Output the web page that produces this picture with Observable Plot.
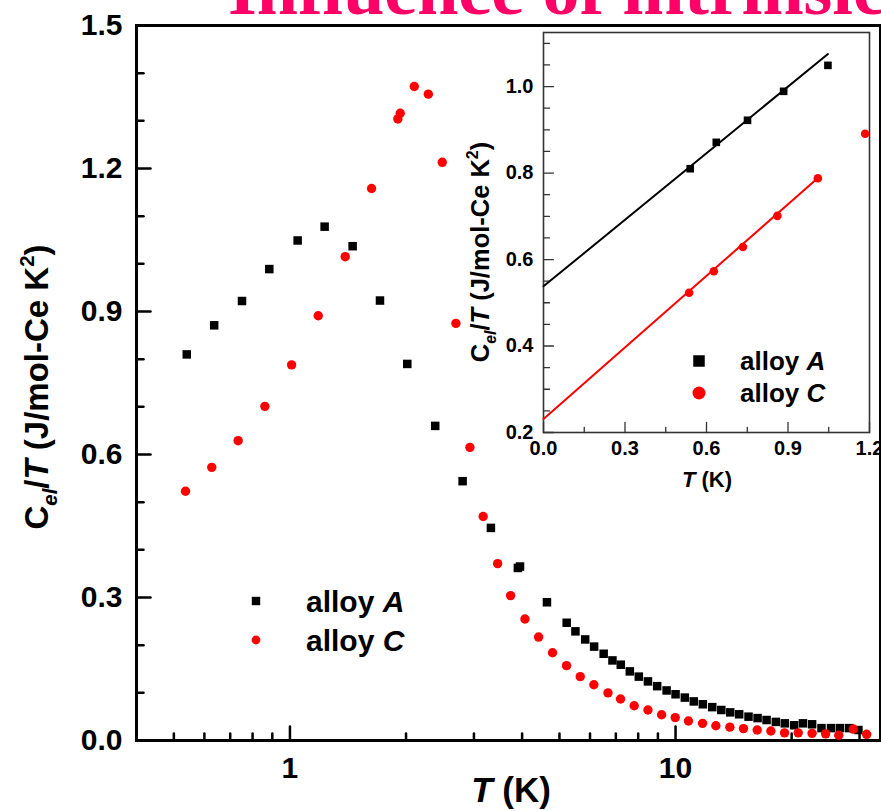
<!DOCTYPE html>
<html><head><meta charset="utf-8">
<script src="https://cdn.jsdelivr.net/npm/d3@7"></script>
<script src="https://cdn.jsdelivr.net/npm/@observablehq/plot@0.6"></script>
<style>
html,body{margin:0;padding:0;overflow:hidden;background:#fff;}
#wrap{position:relative;width:881px;height:811px;overflow:hidden;background:#fff;}
#wrap svg{position:absolute;left:0;top:0;}
</style></head><body><div id="wrap"></div>
<script>
// ---- data ----
const TA = [0.540,0.636,0.751,0.884,1.047,1.23,1.454,1.712,2.015,2.381,2.804,3.32,3.90,3.95,4.64,5.22,5.50,5.83,6.15,6.51,6.86,7.21,7.61,8.03,8.48,8.96,9.48,10.0,10.57,11.15,11.77,12.45,13.14,13.86,14.62,15.46,16.32,17.22,18.2,19.2,20.3,21.4,22.6,23.9,25.3,26.7,28.2,29.8];
const CA = [0.810,0.871,0.922,0.989,1.049,1.078,1.037,0.923,0.790,0.660,0.544,0.446,0.362,0.365,0.290,0.247,0.229,0.212,0.197,0.182,0.168,0.159,0.145,0.134,0.124,0.114,0.105,0.097,0.090,0.082,0.076,0.070,0.064,0.059,0.055,0.050,0.047,0.043,0.039,0.036,0.032,0.036,0.034,0.026,0.026,0.026,0.026,0.022];
const TC = [0.536,0.627,0.734,0.861,1.010,1.184,1.391,1.628,1.905,1.932,2.101,2.285,2.483,2.694,2.929,3.17,3.456,3.734,4.068,4.414,4.797,5.215,5.66,6.14,6.68,7.20,7.81,8.48,9.20,9.98,10.8,11.75,12.72,13.83,15.0,16.28,17.67,19.17,20.8,22.6,24.5,26.5,28.9,31.3];
const CC = [0.523,0.573,0.629,0.701,0.788,0.891,1.015,1.158,1.304,1.316,1.372,1.356,1.213,0.875,0.615,0.470,0.371,0.304,0.255,0.217,0.184,0.157,0.134,0.117,0.100,0.087,0.073,0.064,0.054,0.048,0.041,0.036,0.031,0.028,0.025,0.022,0.020,0.016,0.016,0.015,0.014,0.011,0.024,0.013];

// linear fits shown in the inset
const fitNames = ["A","C"];
const fitIntercept = [0.538, 0.231];
const fitSlope = [0.513, 0.552];
const fitTmax = [1.047, 1.010];

// ticks
const mainXTicks = [1, 10];
const mainXMinor = [0.5,0.6,0.7,0.8,0.9,2,3,4,5,6,7,8,9,20,30];
const mainYTicks = [0,0.3,0.6,0.9,1.2,1.5];
const mainYMinor = [0.1,0.2,0.4,0.5,0.7,0.8,1.0,1.1,1.3,1.4];
const insetXTicks = [0,0.3,0.6,0.9,1.2];
const insetXMinor = [0.15,0.45,0.75,1.05];
const insetYTicks = [0.2,0.4,0.6,0.8,1.0];
const insetYMinor = [0.25,0.3,0.35,0.45,0.5,0.55,0.65,0.7,0.75,0.85,0.9,0.95,1.05,1.1];

const seriesLabels = ["alloy ", "A", "C"];
const titleText = "Influence of intrinsic";

// ---- build ----
const dataA = TA.map((t,i)=>({T:t, C:CA[i]}));
const dataC = TC.map((t,i)=>({T:t, C:CC[i]}));
const W = 881, H = 811;
const FONT = "'Liberation Sans', Arial, Helvetica, sans-serif";
const f1 = d3.format(".1f");

// inward tick shape for Plot.vector
const tickShape = {draw(ctx, l) { ctx.moveTo(0, 0); ctx.lineTo(0, -l); }};
const xTicksIn = (vals, len, sw, stroke="#000") =>
  Plot.vector(vals, {x: d => d, frameAnchor: "bottom", length: len, rotate: 0, anchor: "start", shape: tickShape, stroke, strokeWidth: sw});
const yTicksIn = (vals, len, sw, stroke="#000") =>
  Plot.vector(vals, {y: d => d, frameAnchor: "left", length: len, rotate: 90, anchor: "start", shape: tickShape, stroke, strokeWidth: sw});

const main = Plot.plot({
  width: W, height: H,
  marginLeft: 136, marginRight: 1, marginTop: 25, marginBottom: 71,
  style: {background: "transparent", fontFamily: FONT, overflow: "visible", color: "#000"},
  x: {type: "log", domain: [0.4, 34]},
  y: {domain: [0, 1.5]},
  marks: [
    xTicksIn(mainXMinor, 7, 2.5),
    xTicksIn(mainXTicks, 14, 2.5),
    yTicksIn(mainYMinor, 7, 2.5),
    yTicksIn(mainYTicks, 14, 2.5),
    Plot.frame({stroke: "#000", strokeWidth: 3}),
    Plot.axisX(mainXTicks, {tickSize: 0, tickPadding: 16, tickFormat: d => String(d), fontSize: 30, fontWeight: "bold", label: null}),
    Plot.axisY(mainYTicks, {tickSize: 0, tickPadding: 14, tickFormat: f1, fontSize: 30, fontWeight: "bold", label: null}),
    Plot.dot(dataA, {x: "T", y: "C", symbol: "square", r: 4.8, fill: "#000", stroke: "none"}),
    Plot.dot(dataC, {x: "T", y: "C", r: 4.7, fill: "#ff0000", stroke: "none"})
  ]
});

const insetA = dataA.filter(d => d.T <= 1.2);
const insetC = dataC.filter(d => d.T <= 1.2);
const fitData = fitNames.flatMap((n,i) => [
  {s: n, T: 0, C: fitIntercept[i]},
  {s: n, T: fitTmax[i], C: fitIntercept[i] + fitSlope[i]*fitTmax[i]}
]);

const inset = Plot.plot({
  width: W, height: H,
  marginLeft: 543, marginRight: 12, marginTop: 32, marginBottom: 379,
  style: {background: "transparent", fontFamily: FONT, overflow: "visible", color: "#000"},
  x: {domain: [0, 1.2]},
  y: {domain: [0.2, 1.125]},
  color: {domain: ["A","C"], range: ["#000","#ff0000"]},
  marks: [
    Plot.frame({fill: "#fff", stroke: "none"}),
    xTicksIn(insetXMinor, 5, 1.3, "#333"),
    xTicksIn(insetXTicks, 10, 1.3, "#333"),
    yTicksIn(insetYMinor, 6, 1.3, "#333"),
    yTicksIn(insetYTicks, 10, 1.3, "#333"),
    Plot.frame({stroke: "#333", strokeWidth: 1.6}),
    Plot.axisX(insetXTicks, {tickSize: 0, tickPadding: 8, tickFormat: f1, fontSize: 20, fontWeight: "bold", label: null}),
    Plot.axisY(insetYTicks, {tickSize: 0, tickPadding: 10, tickFormat: f1, fontSize: 20, fontWeight: "bold", label: null}),
    Plot.line(fitData, {x: "T", y: "C", z: "s", stroke: "s", strokeWidth: 2}),
    Plot.dot(insetA, {x: "T", y: "C", symbol: "square", r: 4.3, fill: "#000", stroke: "none"}),
    Plot.dot(insetC, {x: "T", y: "C", r: 4.3, fill: "#ff0000", stroke: "none"})
  ]
});

const wrap = document.getElementById("wrap");
wrap.appendChild(main);
wrap.appendChild(inset);

// ---- annotations ----
function richLabel(svg, x, y, fs, rotate, parts, anchor="middle") {
  const t = d3.select(svg).append("text")
    .attr("transform", `translate(${x},${y})` + (rotate ? ` rotate(${rotate})` : ""))
    .attr("text-anchor", anchor)
    .attr("font-family", FONT).attr("font-weight", "bold")
    .attr("font-size", fs).attr("fill", "#000");
  let cur = 0;
  for (const p of parts) {
    const s = t.append("tspan").text(p.t);
    const size = p.small ? fs*0.62 : fs;
    if (p.small) s.attr("font-size", size);
    if (p.it) s.attr("font-style", "italic");
    const target = p.sub ? fs*0.28 : p.sup ? -fs*0.42 : 0;
    if (target !== cur) { s.attr("dy", target - cur); cur = target; }
  }
  return t;
}

const yLabelParts = [
  {t: "C"}, {t: "el", small: true, sub: true, it: true}, {t: "/"}, {t: "T", it: true},
  {t: " (J/mol-Ce K"}, {t: "2", small: true, sup: true}, {t: ")"}
];
const xLabelParts = [{t: "T", it: true}, {t: " (K)"}];

richLabel(main, 48, 387, 33, -90, yLabelParts);
richLabel(main, 511, 802, 35, 0, xLabelParts);
richLabel(inset, 489, 252, 25.5, -90, yLabelParts);
richLabel(inset, 707, 487, 22, 0, xLabelParts);

// title (partially cut off at the top in the reference)
d3.select(main).append("text")
  .attr("x", 228).attr("y", 14).attr("text-anchor", "start")
  .attr("font-family", "'Liberation Serif', 'Times New Roman', serif")
  .attr("font-weight", "bold").attr("font-size", 74)
  .attr("fill", "#ff0066").text(titleText);

// legends
function legend(svg, x, y1, y2, tx, fs, sq, cr) {
  const g = d3.select(svg).append("g");
  g.append("rect").attr("x", x - sq/2).attr("y", y1 - sq/2).attr("width", sq).attr("height", sq).attr("fill", "#000");
  g.append("circle").attr("cx", x).attr("cy", y2).attr("r", cr).attr("fill", "#ff0000");
  [[y1, seriesLabels[1]], [y2, seriesLabels[2]]].forEach(([yy, s]) => {
    const t = g.append("text").attr("x", tx).attr("y", yy + fs*0.36).attr("text-anchor", "start")
      .attr("font-family", FONT).attr("font-weight", "bold").attr("font-size", fs).attr("fill", "#000");
    t.append("tspan").text(seriesLabels[0]);
    t.append("tspan").attr("font-style", "italic").text(s);
  });
}
legend(main, 256, 601, 640, 306, 30, 8.4, 4.4);
legend(inset, 699, 361, 393, 740, 26, 11.5, 6.5);
</script></body></html>
